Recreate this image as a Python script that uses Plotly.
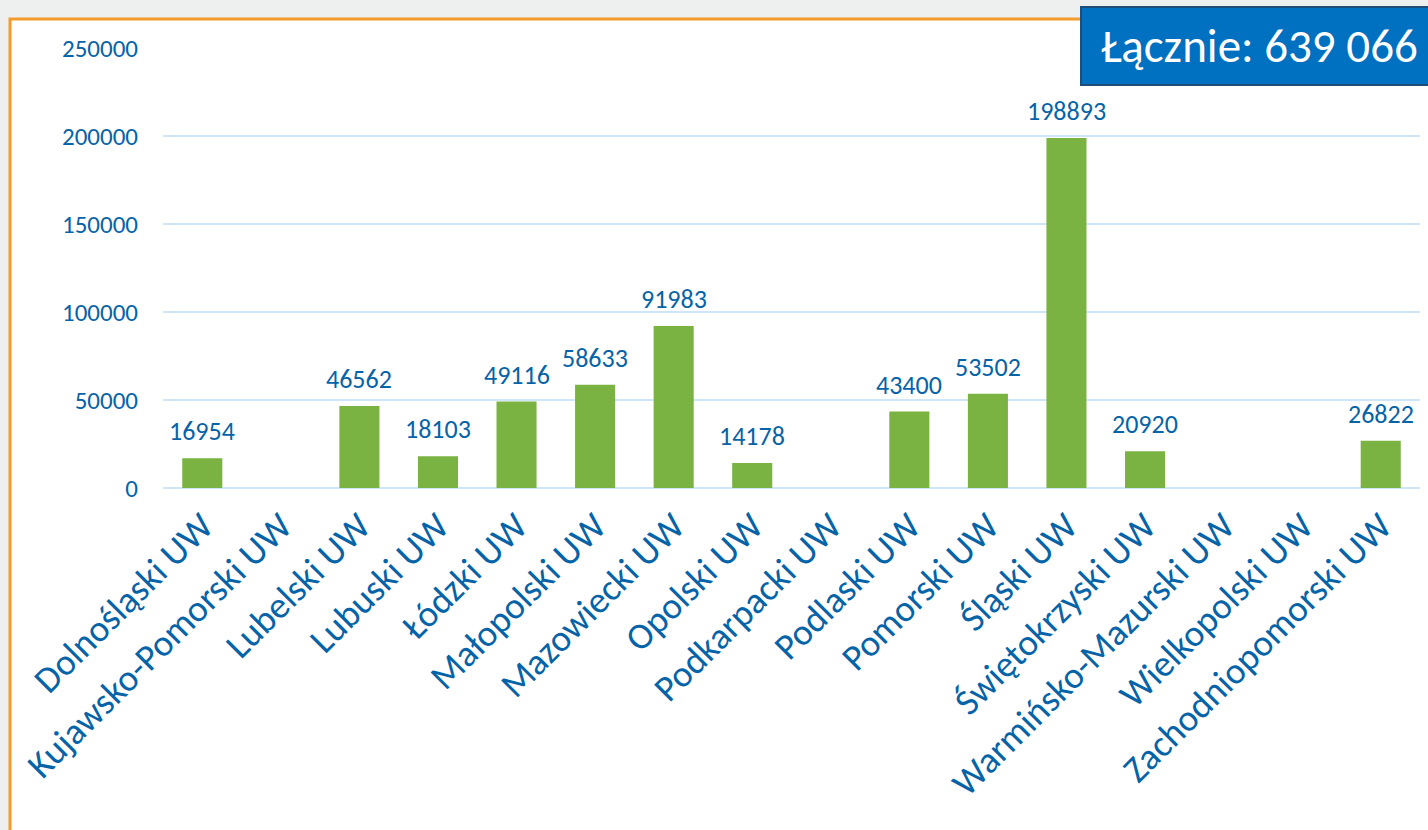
import plotly.graph_objects as go

categories = ["Dolnośląski UW", "Kujawsko-Pomorski UW", "Lubelski UW", "Lubuski UW",
              "Łódzki UW", "Małopolski UW", "Mazowiecki UW", "Opolski UW",
              "Podkarpacki UW", "Podlaski UW", "Pomorski UW", "Śląski UW",
              "Świętokrzyski UW", "Warmińsko-Mazurski UW", "Wielkopolski UW",
              "Zachodniopomorski UW"]
values = [16954, None, 46562, 18103, 49116, 58633, 91983, 14178,
          None, 43400, 53502, 198893, 20920, None, None, 26822]
y_ticks = [0, 50000, 100000, 150000, 200000, 250000]
total_label = "Łącznie: 639 066"

FONT = "Calibri, Carlito, Lato, sans-serif"
BLUE = "#0563a8"

W, H = 1428, 830
L, R, T, B = 163, 8, 48, 342
pw = W - L - R
ph = H - T - B

def px(x):
    return (x - L) / pw

def py(y):
    return (H - B - y) / ph

fig = go.Figure()
fig.add_trace(go.Bar(
    x=categories, y=values,
    marker=dict(color="#7ab342", line=dict(width=0)),
    cliponaxis=False,
))

label_annotations = [
    dict(x=c, y=v, xref="x", yref="y", text=str(v), showarrow=False,
         xanchor="center", yanchor="bottom", yshift=9,
         font=dict(family=FONT, size=26, color=BLUE))
    for c, v in zip(categories, values) if v is not None
]

fig.update_layout(
    width=W, height=H,
    margin=dict(l=L, r=R, t=T, b=B),
    paper_bgcolor="#eef0f0",
    plot_bgcolor="white",
    bargap=0.49,
    showlegend=False,
    font=dict(family=FONT, color=BLUE),
    xaxis=dict(
        tickangle=-45,
        tickfont=dict(family=FONT, size=37, color=BLUE),
        showgrid=False, showline=False, zeroline=False,
        ticks="", ticklabelstandoff=8, automargin=False,
    ),
    yaxis=dict(
        range=[0, 250000],
        tickvals=y_ticks,
        ticktext=[str(v) for v in y_ticks],
        tickfont=dict(family=FONT, size=25, color=BLUE),
        showgrid=True, gridcolor="#cfe6f8", gridwidth=2,
        zeroline=True, zerolinecolor="#cfe6f8", zerolinewidth=2,
        showline=False, ticks="", ticklabelstandoff=24, automargin=False,
    ),
    shapes=[
        dict(type="rect", xref="paper", yref="paper", layer="below",
             x0=px(10), x1=px(1450), y0=py(860), y1=py(19),
             fillcolor="white", line=dict(color="#f39a2b", width=3)),
        dict(type="rect", xref="paper", yref="paper", layer="above",
             x0=px(1081), x1=px(1450), y0=py(85), y1=py(7),
             fillcolor="#0070c0", line=dict(color="#1f4e79", width=2)),
    ],
    annotations=label_annotations + [
        dict(xref="paper", yref="paper", x=px(1099), y=py(46),
             xanchor="left", yanchor="middle", showarrow=False,
             text=total_label,
             font=dict(family=FONT, size=47, color="white")),
    ],
)

fig.write_html("out.html", config={"displayModeBar": False},
               post_script="document.body.style.margin='0px';")
